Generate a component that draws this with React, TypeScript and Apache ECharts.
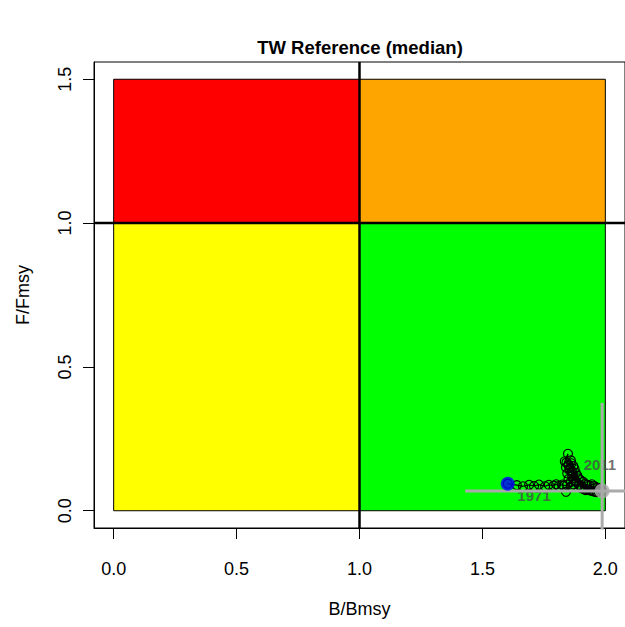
import React, { useEffect, useRef } from "react";
import * as echarts from "echarts";

const TITLE = "TW Reference (median)";
const X_NAME = "B/Bmsy";
const Y_NAME = "F/Fmsy";
const X_TICKS = [0, 0.5, 1, 1.5, 2];
const Y_TICKS = [0, 0.5, 1, 1.5];

// zones: [x0, y0, x1, y1]
const ZONES = [
  [0, 1, 1, 1.5],
  [1, 1, 2, 1.5],
  [0, 0, 1, 1],
  [1, 0, 2, 1],
];
const ZONE_COLORS = ["#ff0000", "#ffa500", "#ffff00", "#00ff00"];

// trajectory (B/Bmsy, F/Fmsy)
const B_RATIO = [
  1.603, 1.64, 1.665, 1.69, 1.71, 1.73, 1.755, 1.77, 1.79, 1.8, 1.81, 1.825,
  1.83, 1.845, 1.86, 1.87, 1.84, 1.86, 1.85, 1.865, 1.845, 1.855, 1.84, 1.85,
  1.835, 1.848, 1.842, 1.86, 1.85, 1.862, 1.855, 1.87, 1.864, 1.875, 1.868,
  1.88, 1.872, 1.886, 1.878, 1.892, 1.884, 1.9, 1.893, 1.91, 1.9, 1.918, 1.905,
  1.925, 1.915, 1.935, 1.92, 1.945, 1.93, 1.955, 1.94, 1.962, 1.95, 1.968,
  1.958, 1.975, 1.965, 1.98, 1.972, 1.987,
];
const F_RATIO = [
  0.094, 0.089, 0.085, 0.09, 0.086, 0.091, 0.085, 0.09, 0.087, 0.092, 0.086,
  0.091, 0.087, 0.09, 0.085, 0.092, 0.066, 0.1, 0.11, 0.12, 0.13, 0.14, 0.15,
  0.16, 0.172, 0.198, 0.168, 0.175, 0.158, 0.165, 0.148, 0.155, 0.138, 0.145,
  0.125, 0.132, 0.115, 0.122, 0.105, 0.112, 0.098, 0.106, 0.09, 0.1, 0.084,
  0.093, 0.078, 0.09, 0.075, 0.088, 0.072, 0.092, 0.074, 0.086, 0.07, 0.082,
  0.068, 0.08, 0.066, 0.077, 0.065, 0.074, 0.067, 0.069,
];

// uncertainty of the last year
const B_CI = [1.43, 2.6];
const F_CI = [-0.2, 0.375];

const YEAR_LABELS = ["1971", "2011"];
const YEAR_LABEL_POS = [
  [1.71, 0.053],
  [1.978, 0.16],
];

const X_MIN = -0.08;
const X_MAX = 2.08;
const Y_MIN = -0.06;
const Y_MAX = 1.56;

const FONT = "'Liberation Sans', Arial, Helvetica, sans-serif";

export default function App() {
  const ref = useRef<HTMLDivElement>(null);

  useEffect(() => {
    if (!ref.current) return;
    const chart = echarts.init(ref.current, undefined, { renderer: "svg" });
    const n = B_RATIO.length;
    const traj = B_RATIO.map((b, i) => [b, F_RATIO[i]]);
    const last = [B_RATIO[n - 1], F_RATIO[n - 1]];

    const option: any = {
      animation: false,
      backgroundColor: "#ffffff",
      grid: {
        left: 94,
        top: 62,
        width: 532.6,
        height: 466,
        show: true,
        borderColor: "#000",
        borderWidth: 1,
        backgroundColor: "transparent",
      },
      graphic: [
        {
          type: "text",
          x: 360,
          y: 47,
          style: {
            text: TITLE,
            align: "center",
            verticalAlign: "middle",
            font: `bold 18.5px ${FONT}`,
            fill: "#000",
          },
        },
      ],
      xAxis: {
        type: "value",
        min: X_MIN,
        max: X_MAX,
        splitLine: { show: false },
        axisLine: { show: true, onZero: false, lineStyle: { color: "#000", width: 1 } },
        axisTick: {
          show: true,
          customValues: X_TICKS,
          length: 11,
          lineStyle: { color: "#000", width: 1 },
        },
        axisLabel: {
          customValues: X_TICKS,
          formatter: (v: number) => v.toFixed(1),
          fontSize: 18,
          fontFamily: FONT,
          color: "#000",
          margin: 32,
        },
        name: X_NAME,
        nameLocation: "middle",
        nameGap: 72,
        nameTextStyle: { fontSize: 18, fontFamily: FONT, color: "#000" },
      },
      yAxis: {
        type: "value",
        min: Y_MIN,
        max: Y_MAX,
        splitLine: { show: false },
        axisLine: { show: true, onZero: false, lineStyle: { color: "#000", width: 1 } },
        axisTick: {
          show: true,
          customValues: Y_TICKS,
          length: 11,
          lineStyle: { color: "#000", width: 1 },
        },
        axisLabel: {
          customValues: Y_TICKS,
          formatter: (v: number) => v.toFixed(1),
          rotate: 90,
          fontSize: 18,
          fontFamily: FONT,
          color: "#000",
          margin: 20,
        },
        name: Y_NAME,
        nameLocation: "middle",
        nameRotate: 90,
        nameGap: 62,
        nameTextStyle: { fontSize: 18, fontFamily: FONT, color: "#000" },
      },
      series: [
        {
          type: "custom",
          z: 1,
          silent: true,
          data: ZONES.map((z, i) => [...z, i]),
          renderItem: (params: any, api: any) => {
            const p0 = api.coord([api.value(0), api.value(3)]);
            const p1 = api.coord([api.value(2), api.value(1)]);
            return {
              type: "rect",
              shape: { x: p0[0], y: p0[1], width: p1[0] - p0[0], height: p1[1] - p0[1] },
              style: {
                fill: ZONE_COLORS[api.value(4)],
                stroke: "#000",
                lineWidth: 1,
              },
            };
          },
        },
        {
          type: "line",
          z: 2,
          silent: true,
          symbol: "none",
          data: [
            [1, Y_MIN],
            [1, Y_MAX],
          ],
          lineStyle: { color: "#000", width: 2.5 },
        },
        {
          type: "line",
          z: 2,
          silent: true,
          symbol: "none",
          data: [
            [X_MIN, 1],
            [X_MAX, 1],
          ],
          lineStyle: { color: "#000", width: 2.5 },
        },
        {
          type: "line",
          z: 3,
          silent: true,
          data: traj,
          symbol: "circle",
          symbolSize: 9,
          lineStyle: { color: "#000", width: 1.2 },
          itemStyle: { color: "rgba(0,0,0,0)", borderColor: "#000", borderWidth: 1.1 },
        },
        {
          type: "scatter",
          z: 4,
          silent: true,
          symbolSize: 0,
          data: YEAR_LABEL_POS.map((p, i) => ({ value: p, name: YEAR_LABELS[i] })),
          label: {
            show: true,
            position: "inside",
            formatter: (p: any) => p.name,
            fontSize: 15,
            fontWeight: "bold",
            fontFamily: FONT,
            color: "#4a4a4a",
          },
        },
        {
          type: "line",
          z: 5,
          silent: true,
          symbol: "none",
          clip: true,
          data: [
            [B_CI[0], last[1]],
            [B_CI[1], last[1]],
          ],
          lineStyle: { color: "#aaaaaa", width: 3 },
        },
        {
          type: "line",
          z: 5,
          silent: true,
          symbol: "none",
          clip: true,
          data: [
            [last[0], F_CI[0]],
            [last[0], F_CI[1]],
          ],
          lineStyle: { color: "#aaaaaa", width: 3 },
        },
        {
          type: "scatter",
          z: 6,
          silent: true,
          symbolSize: 14,
          data: [traj[0]],
          itemStyle: { color: "#0000ff" },
        },
        {
          type: "scatter",
          z: 6,
          silent: true,
          symbolSize: 15,
          data: [last],
          itemStyle: { color: "#aaaaaa" },
        },
      ],
    };
    chart.setOption(option);
    return () => chart.dispose();
  }, []);

  return (
    <div
      ref={ref}
      style={{ position: "fixed", left: 0, top: 0, width: 625, height: 627, background: "#fff" }}
    />
  );
}
